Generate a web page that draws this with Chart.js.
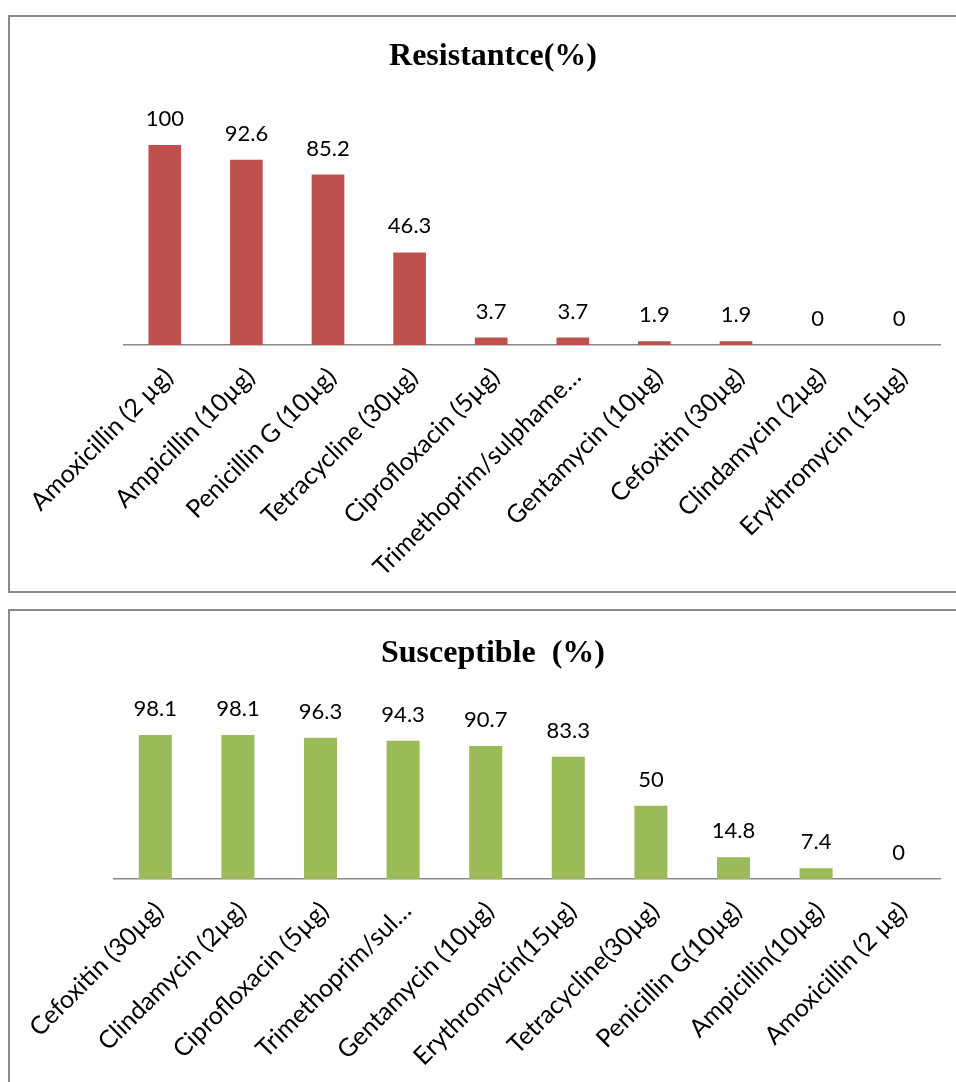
<!DOCTYPE html>
<html>
<head>
<meta charset="utf-8">
<script src="https://cdn.jsdelivr.net/npm/chart.js@4.4.1/dist/chart.umd.min.js"></script>
<style>
  html, body { margin: 0; padding: 0; background: #ffffff; overflow: hidden; width: 956px; height: 1082px; }
  .panel { position: absolute; box-sizing: border-box; border: 2px solid #8a8a8a; background: #ffffff; }
  canvas { position: absolute; }
</style>
</head>
<body>
<div class="panel" style="left:8px; top:15px; width:1000px; height:578px;"></div>
<div class="panel" style="left:8px; top:609px; width:1000px; height:600px;"></div>
<canvas id="resChart" width="986" height="591" style="left:0px; top:0px; width:986px; height:591px;"></canvas>
<canvas id="susChart" width="986" height="482" style="left:0px; top:600px; width:986px; height:482px;"></canvas>
<script>
// ---- Data ----
const resTitle = 'Resistantce(%)';
const resCategories = ['Amoxicillin (2 µg)', 'Ampicillin (10µg)', 'Penicillin G (10µg)', 'Tetracycline (30µg)', 'Ciprofloxacin (5µg)', 'Trimethoprim/sulphame…', 'Gentamycin (10µg)', 'Cefoxitin (30µg)', 'Clindamycin (2µg)', 'Erythromycin (15µg)'];
const resValues = [100, 92.6, 85.2, 46.3, 3.7, 3.7, 1.9, 1.9, 0, 0];

const susTitle = 'Susceptible  (%)';
const susCategories = ['Cefoxitin (30µg)', 'Clindamycin (2µg)', 'Ciprofloxacin (5µg)', 'Trimethoprim/sul…', 'Gentamycin (10µg)', 'Erythromycin(15µg)', 'Tetracycline(30µg)', 'Penicillin G(10µg)', 'Ampicillin(10µg)', 'Amoxicillin (2 µg)'];
const susValues = [98.1, 98.1, 96.3, 94.3, 90.7, 83.3, 50, 14.8, 7.4, 0];

const axisMax = 120;

// ---- Value labels plugin ----
const valueLabels = {
  id: 'valueLabels',
  afterDatasetsDraw(chart) {
    const ctx = chart.ctx;
    ctx.save();
    ctx.font = '22px Lato';
    ctx.fillStyle = '#000000';
    ctx.textAlign = 'center';
    ctx.textBaseline = 'middle';
    chart.data.datasets.forEach((ds, di) => {
      const meta = chart.getDatasetMeta(di);
      meta.data.forEach((bar, i) => {
        ctx.fillText(String(ds.data[i]), bar.x, bar.y - 26);
      });
    });
    ctx.restore();
  }
};

function makeChart(id, title, cats, vals, color, cfg) {
  return new Chart(document.getElementById(id), {
    type: 'bar',
    data: {
      labels: cats,
      datasets: [{
        data: vals,
        backgroundColor: color,
        borderWidth: 0,
        barPercentage: 0.4,
        categoryPercentage: 1.0
      }]
    },
    plugins: [valueLabels],
    options: {
      responsive: false,
      animation: false,
      devicePixelRatio: 1,
      layout: { padding: 0 },
      plugins: {
        legend: { display: false },
        tooltip: { enabled: false },
        title: {
          display: true,
          text: title,
          color: '#000000',
          font: { family: 'Liberation Serif', size: 32, weight: 'bold', lineHeight: 1.2 },
          padding: { top: cfg.titleTop, bottom: cfg.titleBottom }
        }
      },
      scales: {
        x: {
          grid: { display: false, drawTicks: false },
          border: { display: true, color: '#8a8a8a', width: 1.5 },
          ticks: {
            autoSkip: false,
            minRotation: 45,
            maxRotation: 45,
            padding: 17,
            labelOffset: 4,
            color: '#000000',
            font: { family: 'Lato', size: 25 }
          },
          afterFit(scale) {
            scale.paddingLeft = 0;
            scale.paddingRight = 0;
            scale.height = cfg.xHeight;
          }
        },
        y: {
          position: 'left',
          min: 0,
          max: axisMax,
          grid: { display: false, drawTicks: false },
          border: { display: false },
          ticks: { display: false },
          afterFit(scale) { scale.width = cfg.leftWidth; }
        },
        yRight: {
          type: 'linear',
          position: 'right',
          grid: { display: false, drawTicks: false },
          border: { display: false },
          ticks: { display: false },
          afterFit(scale) { scale.width = 46; }
        }
      }
    }
  });
}

makeChart('resChart', resTitle, resCategories, resValues, '#C0504D',
  { titleTop: 37.8, titleBottom: 28.8, xHeight: 246, leftWidth: 124 });
makeChart('susChart', susTitle, susCategories, susValues, '#9BBB59',
  { titleTop: 34.3, titleBottom: 30.3, xHeight: 203, leftWidth: 114 });
</script>
</body>
</html>
